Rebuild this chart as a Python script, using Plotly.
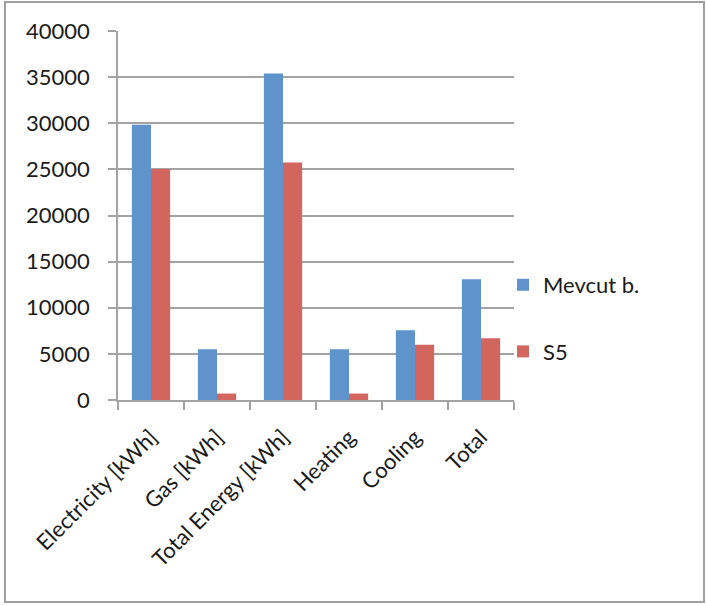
import plotly.graph_objects as go

categories = ["Electricity [kWh]", "Gas [kWh]", "Total Energy [kWh]", "Heating", "Cooling", "Total"]
mevcut = [29850, 5500, 35400, 5500, 7550, 13100]
s5 = [25050, 700, 25750, 700, 6000, 6700]
series_names = ["Mevcut b.", "S5"]
colors = ["#5E94CB", "#D3655F"]
y_ticks = [0, 5000, 10000, 15000, 20000, 25000, 30000, 35000, 40000]

W, H = 706, 606
L, R, T, B = 118, 514, 31, 400
pw, ph = R - L, B - T

def px(x):
    return (x - L) / pw

def py(y):
    return (B - y) / ph

font = dict(family="Lato, Open Sans, sans-serif", size=22, color="#1a1a1a")
grid = "#a3a3a3"

fig = go.Figure()
for i, (name, vals) in enumerate(zip(series_names, [mevcut, s5])):
    fig.add_trace(go.Bar(x=categories, y=vals, name=name, marker_color=colors[i],
                         marker_line_width=0, legendgroup=name))

fig.update_layout(
    width=W, height=H,
    margin=dict(l=L, r=W - R, t=T, b=H - B, autoexpand=False),
    paper_bgcolor="white", plot_bgcolor="white",
    font=font,
    bargap=0.42, bargroupgap=0,
    showlegend=True,
    legend=dict(x=px(503), y=py(264), xanchor="left", yanchor="top",
                bgcolor="rgba(0,0,0,0)", traceorder="grouped", tracegroupgap=35,
                font=font),
    xaxis=dict(showline=True, linecolor=grid, linewidth=1.5, ticks="outside", ticklen=8,
               tickcolor=grid, tickwidth=1.5, tickson="boundaries", tickangle=-45,
               showgrid=False, tickfont=font, ticklabelstandoff=14),
    yaxis=dict(range=[0, 40000], tickvals=y_ticks, ticktext=[str(v) for v in y_ticks],
               showline=True, linecolor=grid, linewidth=1.5, ticks="outside", ticklen=8,
               tickcolor=grid, tickwidth=1.5, showgrid=True, gridcolor=grid, gridwidth=1.5,
               zeroline=False, tickfont=font, ticklabelstandoff=14),
    shapes=[dict(type="rect", xref="paper", yref="paper",
                 x0=px(5), x1=px(704), y0=py(602), y1=py(2),
                 line=dict(color="#a0a0a0", width=2), layer="below")],
)

fig.write_html("out.html")
